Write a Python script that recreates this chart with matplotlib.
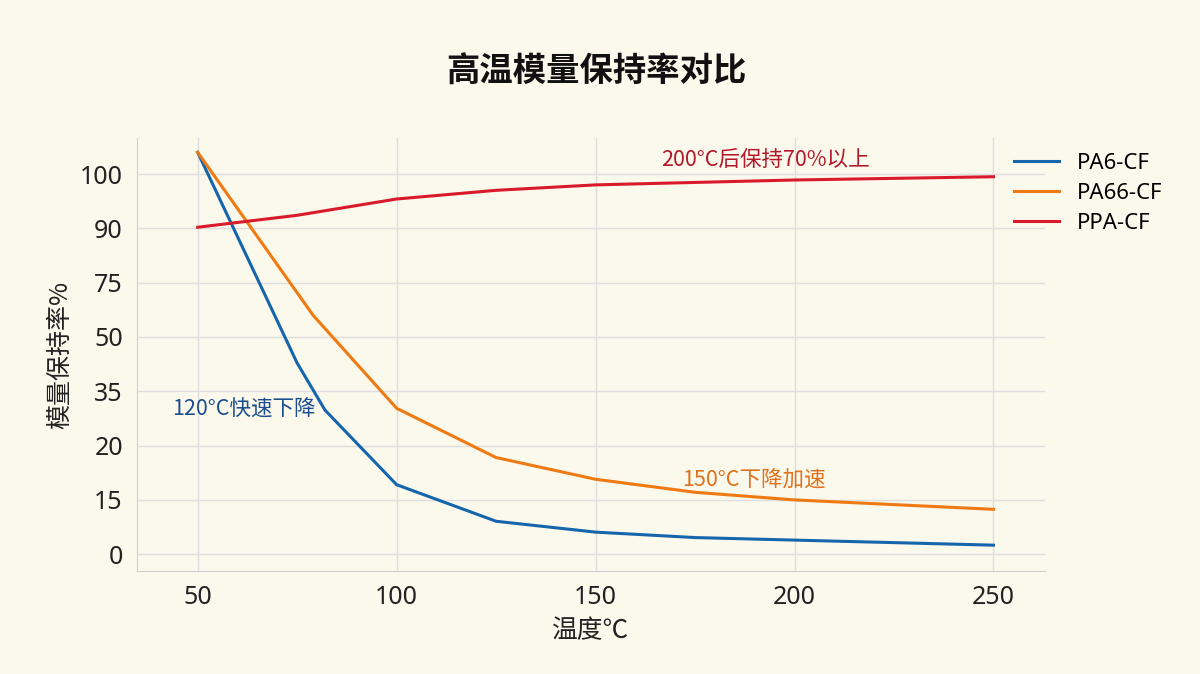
import numpy as np
import matplotlib
matplotlib.use('Agg')
import matplotlib.pyplot as plt

plt.rcParams['font.family'] = ['Noto Sans CJK SC', 'DejaVu Sans']
latin = ['Noto Sans', 'Noto Sans CJK SC']

# ====== 数据 ======
pa6_x = [50, 75, 82, 100, 125, 150, 175, 200, 250]
pa6_y = [104, 42.8, 29.8, 16.4, 9.1, 6.1, 4.6, 3.9, 2.5]

pa66_x = [50, 79, 100, 125, 150, 175, 200, 225, 250]
pa66_y = [104, 60, 30.3, 18.9, 16.9, 15.7, 15.0, 13.7, 12.4]

ppa_x = [50, 75, 100, 125, 150, 200, 250]
ppa_y = [90.2, 92.4, 95.4, 97.0, 98.0, 98.9, 99.5]

y_ticks = [0, 15, 20, 35, 50, 75, 90, 100]
x_ticks = [50, 100, 150, 200, 250]

# 非均匀刻度: 每个刻度等间距
scale_vals = np.array([-15] + y_ticks + [110], dtype=float)
scale_pos = np.arange(-1, len(y_ticks) + 1, dtype=float)


def fwd(v):
    return np.interp(v, scale_vals, scale_pos)


def inv(p):
    return np.interp(p, scale_pos, scale_vals)


bg = '#fbf8ec'
fig = plt.figure(figsize=(12, 6.74), dpi=100, facecolor=bg)
ax = fig.add_axes([0.114, 0.153, 0.757, 0.642], facecolor=bg)
ax.set_yscale('function', functions=(fwd, inv))

ax.plot(pa6_x, pa6_y, color='#1565ad', lw=2.2, label='PA6-CF')
ax.plot(pa66_x, pa66_y, color='#f07a12', lw=2.2, label='PA66-CF')
ax.plot(ppa_x, ppa_y, color='#d91a2a', lw=2.2, label='PPA-CF')

ax.set_xlim(34.7, 263)
ax.set_ylim(-4.6, 106.6)
ax.set_xticks(x_ticks)
ax.set_xticklabels([str(t) for t in x_ticks], family=latin)
ax.set_yticks(y_ticks)
ax.set_yticklabels([str(t) for t in y_ticks], family=latin)
ax.tick_params(length=0, labelsize=18, colors='#222222', pad=10)
ax.grid(True, color='#dedede', lw=1)
ax.set_axisbelow(True)
for s in ['top', 'right']:
    ax.spines[s].set_visible(False)
for s in ['left', 'bottom']:
    ax.spines[s].set_color('#cfcfcf')

ax.set_xlabel('温度℃', fontsize=18.5, color='#222222', labelpad=6)
ax.set_ylabel('模量保持率%', fontsize=18, color='#222222', labelpad=5)

# 注释
ax.text(43.7, 30.3, '120°C快速下降', color='#1d4f8f', fontsize=15.5, va='center')
ax.text(192.7, 102.6, '200°C后保持70%以上', color='#b3172a', fontsize=15.5,
        ha='center', va='center')
ax.text(189.7, 16.9, '150°C下降加速', color='#e0701a', fontsize=15.5,
        ha='center', va='center')

fig.text(0.497, 0.893, '高温模量保持率对比', fontsize=24, fontweight='bold',
         ha='center', va='center', color='#111111')

leg = ax.legend(loc='upper left', bbox_to_anchor=(0.944, 1.012), frameon=False,
                handlelength=2.0, labelspacing=0.4, handletextpad=0.8,
                prop={'family': latin, 'size': 16})

fig.savefig('out.png', dpi=100, facecolor=bg)
